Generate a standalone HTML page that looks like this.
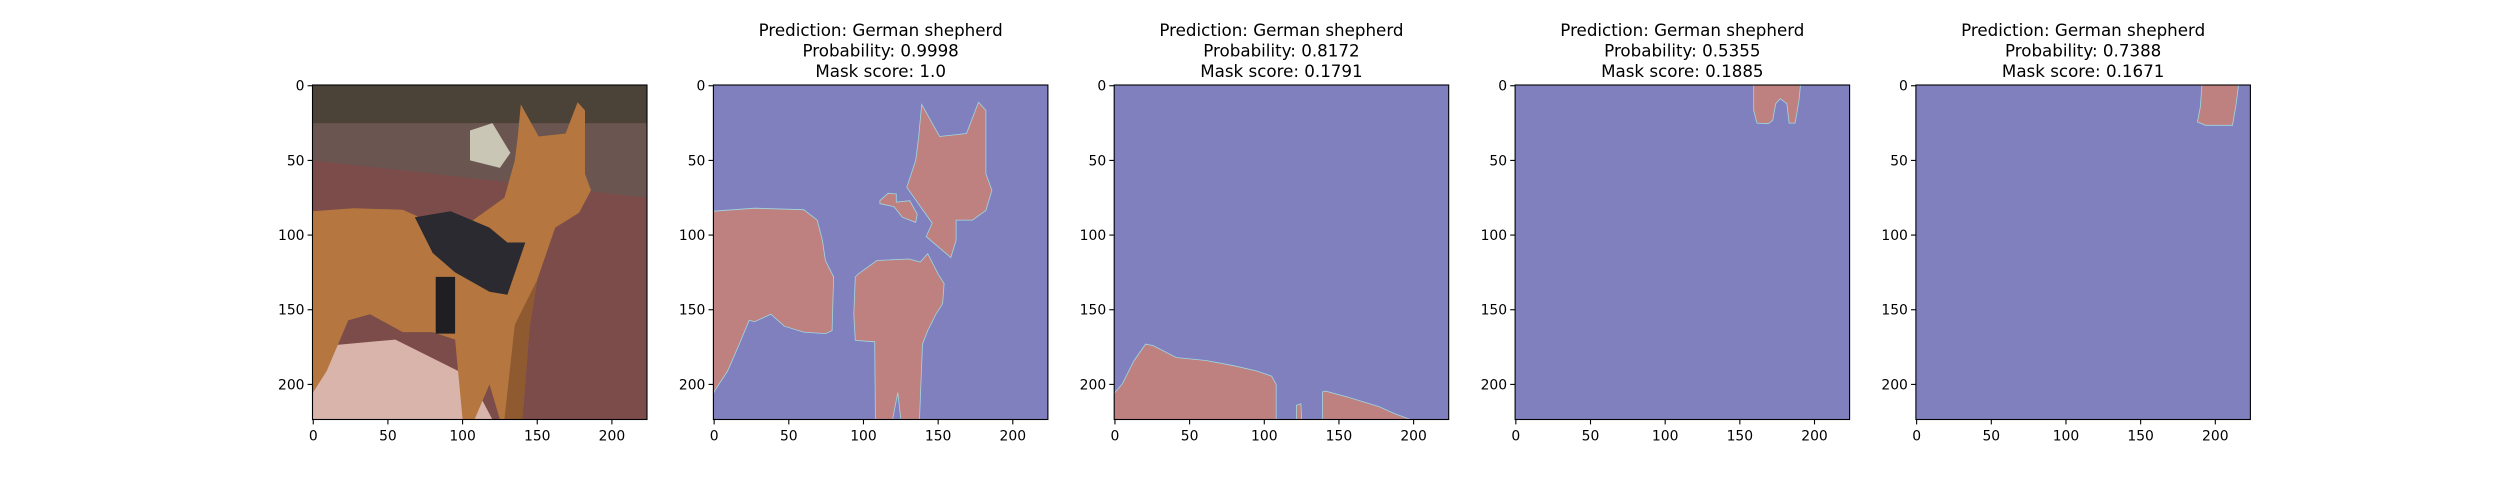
<!DOCTYPE html>
<html><head><meta charset="utf-8"><style>
html,body{margin:0;padding:0;background:#fff;}
svg{display:block;font-family:"DejaVu Sans","Liberation Sans",sans-serif;}
</style></head><body>
<svg id="fig" width="2500" height="500" viewBox="0 0 2500 500" xmlns="http://www.w3.org/2000/svg"></svg>
<script>
const NS="http://www.w3.org/2000/svg";
const axLefts=[312.5,713.4,1114.2,1515.1,1915.9];
const axTop=85, axSize=334.5;
const ticks=[0,50,100,150,200];
const tickLabels=["0","50","100","150","200"];
const titlesPred=["","Prediction: German shepherd","Prediction: German shepherd","Prediction: German shepherd","Prediction: German shepherd"];
const titlesProb=["","Probability: 0.9998","Probability: 0.8172","Probability: 0.5355","Probability: 0.7388"];
const titlesMask=["","Mask score: 1.0","Mask score: 0.1791","Mask score: 0.1885","Mask score: 0.1671"];
const mask1=[
 [[139,12.5],[151,34],[169,32],[177,11],[182,16.5],[182,59],[186,70],[182,83.5],[173,90],[162,90],[162,103.5],[158.5,115],[142,101],[146,92],[129,68],[135,50],[137,34]],
 [[111,77],[116.5,72],[122,72.5],[122,78],[131,77],[136,86],[135,91.5],[126,88],[120.5,81],[111,79]],
 [[-0.5,84],[27,82],[60,83],[69,90],[72.5,103.5],[74.5,117],[80,128],[79,164],[74.5,166],[60,165],[47,161],[38,153],[27,158],[23.5,157],[16,175],[9,191],[0.5,204],[-0.5,206]],
 [[96.5,126],[109,117],[130.5,116],[138,118],[143,112.5],[150,126],[154,132.5],[153,146],[148.5,153],[143,164],[139.5,173],[137.5,223.5],[125,223.5],[123,205.5],[119.5,223.5],[108,223.5],[107.5,171.5],[94.5,170.5],[93.5,153],[94.5,128]]
];
const mask2=[
 [[-0.5,206],[5,199.5],[12.8,184],[20.5,173],[25.6,174],[41,182],[51,183],[61,184],[79.5,187.5],[95,191],[105,194.5],[108,200],[108,223.5],[-0.5,223.5]],
 [[121.5,214],[124.5,213],[125,223.5],[121.5,223.5]],
 [[139,205],[141,204.5],[156,208.5],[177,215],[187,219.5],[198,223.5],[139,223.5]]
];
const mask3=[[[159.3,-0.5],[190.6,-0.5],[189.6,9.8],[187,25],[183,25],[181.5,12],[177,8.7],[174,12],[172,23.2],[169,25.4],[161.5,25],[159.3,16.5]]];
const mask4=[[[191,-0.5],[215.5,-0.5],[214,12],[211.5,26.5],[193.5,26.5],[188,24.3],[190,14]]];
const masks=[null,mask1,mask2,mask3,mask4];
const photoColors=["#4b4238","#6a5550","#7b4c4a","#d9b4ab","#b5773f","#8f5a30","#2b2a31","#1f1e22","#c9c6b5"];
const photoPolys=[
 [[-0.5,-0.5],[223.5,-0.5],[223.5,30],[-0.5,30]],
 [[-0.5,25],[223.5,25],[223.5,85],[-0.5,55]],
 [[-0.5,50],[223.5,75],[223.5,223.5],[-0.5,223.5]],
 [[-0.5,175],[55,170],[105,195],[120,223.5],[-0.5,223.5]],
 [[-0.5,84],[27,82],[60,83],[80,92],[100,95],[128,75],[135,50],[137,34],[139,12.5],[151,34],[169,32],[177,11],[182,16.5],[182,59],[186,70],[178,85],[162,95],[150,130],[145,160],[140,223.5],[125,223.5],[118,200],[108,223.5],[100,223.5],[95,170],[80,165],[60,165],[38,153],[23.5,157],[9,191],[-0.5,206]],
 [[150,130],[145,160],[140,223.5],[128,223.5],[135,160]],
 [[68,88],[92,84],[118,95],[130,105],[142,105],[130,140],[118,138],[95,125],[80,112]],
 [[82,128],[95,128],[95,166],[82,166]],
 [[105,30],[120,25],[132,45],[125,55],[105,50]]
];
const svg=document.getElementById('fig');
function el(tag,attrs,parent){const e=document.createElementNS(NS,tag);for(const k in attrs)e.setAttribute(k,attrs[k]);(parent||svg).appendChild(e);return e;}
function sx(i,v){return axLefts[i]+(v+0.5)/224*axSize;}
function sy(v){return axTop+(v+0.5)/224*axSize;}
function pts(i,poly){return poly.map(p=>sx(i,p[0]).toFixed(1)+","+sy(p[1]).toFixed(1)).join(" ");}
for(let i=0;i<5;i++){
 const g=el('g',{});
 
 
 const L=axLefts[i];
 if(i===0){
  for(let k=0;k<photoPolys.length;k++){
   const p=el('polygon',{points:pts(0,photoPolys[k]),fill:photoColors[k]},g);
   
   
  }
 }else{
  const bg=el('rect',{x:L,y:axTop,width:axSize,height:axSize,fill:'#8080bf'},g);
  
  
  for(const poly of masks[i]){
   const p=el('polygon',{points:pts(i,poly),fill:'#bf8080',stroke:'#9fd8e0','stroke-width':0.8},g);
   
   
  }
  const lines=[titlesPred[i],titlesProb[i],titlesMask[i]];
  lines.forEach((t,j)=>{
   const tx=el('text',{x:L+axSize/2,y:36+j*20.5,'font-size':16.7,'text-anchor':'middle',fill:'#000'},g);
   tx.textContent=t;
   
   
  });
 }
 const fr=el('rect',{x:L,y:axTop,width:axSize,height:axSize,fill:'none',stroke:'#000','stroke-width':1.1},g);
 
 
 ticks.forEach((v,j)=>{
  const X=sx(i,v),Y=sy(v);
  el('line',{x1:X,y1:axTop+axSize,x2:X,y2:axTop+axSize+4.9,stroke:'#000','stroke-width':1.1},g);
  const xt=el('text',{x:X,y:axTop+axSize+21,'font-size':13.9,'text-anchor':'middle'},g);
  xt.textContent=tickLabels[j];
  
  
  el('line',{x1:L,y1:Y,x2:L-4.9,y2:Y,stroke:'#000','stroke-width':1.1},g);
  const yt=el('text',{x:L-8,y:Y+5,'font-size':13.9,'text-anchor':'end'},g);
  yt.textContent=tickLabels[j];
  
  
 });
}
</script>
</body></html>
